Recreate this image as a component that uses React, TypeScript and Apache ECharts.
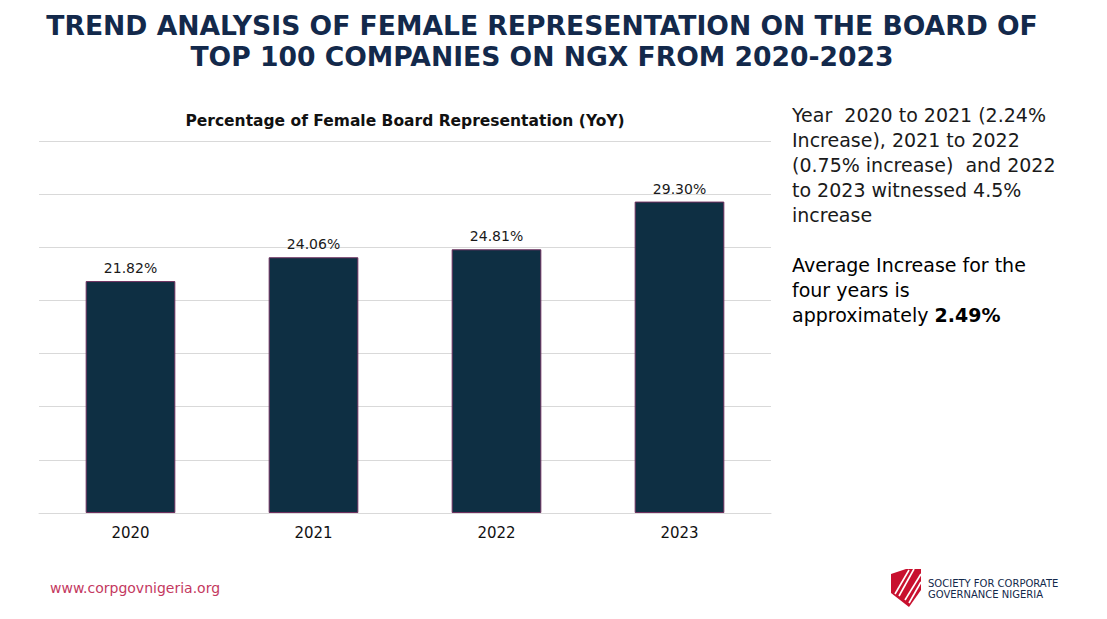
import React, { useEffect, useRef } from "react";
import * as echarts from "echarts";

const years = ["2020", "2021", "2022", "2023"];
const femalePct = [21.82, 24.06, 24.81, 29.3];
const yTicks = { min: 0, max: 35, interval: 5 };

const titleLines = [
  "TREND ANALYSIS OF FEMALE REPRESENTATION ON THE BOARD OF",
  "TOP 100 COMPANIES ON NGX FROM 2020-2023",
];
const chartTitle = "Percentage of Female Board Representation (YoY)";
const noteLines = [
  "Year  2020 to 2021 (2.24%",
  "Increase), 2021 to 2022",
  "(0.75% increase)  and 2022",
  "to 2023 witnessed 4.5%",
  "increase",
];
const avgLines = ["Average Increase for the", "four years is"];
const avgLast = "approximately ";
const avgValue = "2.49%";
const footerUrl = "www.corpgovnigeria.org";
const logoLines = ["SOCIETY FOR CORPORATE", "GOVERNANCE NIGERIA"];

const FONT = "'DejaVu Sans', sans-serif";

export default function App() {
  const ref = useRef<HTMLDivElement>(null);
  useEffect(() => {
    const chart = echarts.init(ref.current!, null, { renderer: "svg" });
    const navy = "#13294b";
    const graphics: any[] = [];
    graphics.push({
      type: "text",
      x: 542,
      y: 41,
      style: {
        text: titleLines.join("\n"),
        fontFamily: FONT,
        fontWeight: "bold",
        fontSize: 26.6,
        lineHeight: 31,
        fill: navy,
        align: "center",
        verticalAlign: "middle",
      },
    });
    graphics.push({
      type: "text",
      x: 405,
      y: 121,
      style: {
        text: chartTitle,
        fontFamily: FONT,
        fontWeight: "bold",
        fontSize: 15.5,
        fill: "#111",
        align: "center",
        verticalAlign: "middle",
      },
    });
    graphics.push({
      type: "text",
      x: 792,
      y: 165,
      style: {
        text: noteLines.join("\n"),
        fontFamily: FONT,
        fontSize: 19,
        lineHeight: 25,
        fill: "#1a1a1a",
        verticalAlign: "middle",
      },
    });
    graphics.push({
      type: "text",
      x: 792,
      y: 290,
      style: {
        text: `{n|${avgLines[0]}}\n{n|${avgLines[1]}}\n{n|${avgLast}}{b|${avgValue}}`,
        verticalAlign: "middle",
        rich: {
          n: { fontFamily: FONT, fontSize: 19, lineHeight: 25, color: "#1a1a1a" },
          b: { fontFamily: FONT, fontSize: 19, lineHeight: 25, fontWeight: "bold", color: "#111" },
        },
      },
    });
    graphics.push({
      type: "text",
      x: 50,
      y: 588,
      style: { text: footerUrl, fontFamily: FONT, fontSize: 14, fill: "#c4395f", verticalAlign: "middle" },
    });
    // logo shield
    graphics.push({
      type: "polygon",
      shape: {
        points: [
          [891, 574],
          [906, 569],
          [921, 569],
          [921, 590],
          [909, 607],
          [891, 593],
        ],
      },
      style: { fill: "#c8102e" },
    });
    [
      [[921, 574], [905, 600]],
      [[921, 582], [909, 603]],
      [[914, 569], [899, 596]],
      [[909, 570], [895, 594]],
    ].forEach((pts) => {
      graphics.push({
        type: "polyline",
        shape: { points: pts },
        style: { stroke: "#fff", lineWidth: 1.6, fill: null },
      });
    });
    graphics.push({
      type: "text",
      x: 928,
      y: 589,
      style: {
        text: logoLines.join("\n"),
        fontFamily: FONT,
        fontSize: 10,
        lineHeight: 11,
        fill: navy,
        verticalAlign: "middle",
      },
    });

    chart.setOption({
      animation: false,
      backgroundColor: "#ffffff",
      grid: { left: 39, right: 336, top: 141, bottom: 106, containLabel: false },
      xAxis: {
        type: "category",
        data: years,
        axisLine: { lineStyle: { color: "#d9d9d9", width: 1 } },
        axisTick: { show: false },
        axisLabel: { color: "#111", fontSize: 15, fontFamily: FONT, margin: 12 },
      },
      yAxis: {
        type: "value",
        min: yTicks.min,
        max: yTicks.max,
        interval: yTicks.interval,
        axisLabel: { show: false },
        axisLine: { show: false },
        axisTick: { show: false },
        splitLine: { lineStyle: { color: "#d9d9d9", width: 1 } },
      },
      series: [
        {
          type: "bar",
          data: femalePct,
          barWidth: "49%",
          itemStyle: { color: "#0e2f43", borderColor: "#6e2f5e", borderWidth: 1 },
          label: {
            show: true,
            position: "top",
            distance: 6,
            color: "#1a1a1a",
            fontSize: 14,
            fontFamily: FONT,
            formatter: (p: any) => `${p.value.toFixed(2)}%`,
          },
        },
      ],
      graphic: graphics,
    });
    return () => chart.dispose();
  }, []);
  return (
    <div
      ref={ref}
      style={{ position: "absolute", left: 0, top: 0, width: 1107, height: 619 }}
    />
  );
}
